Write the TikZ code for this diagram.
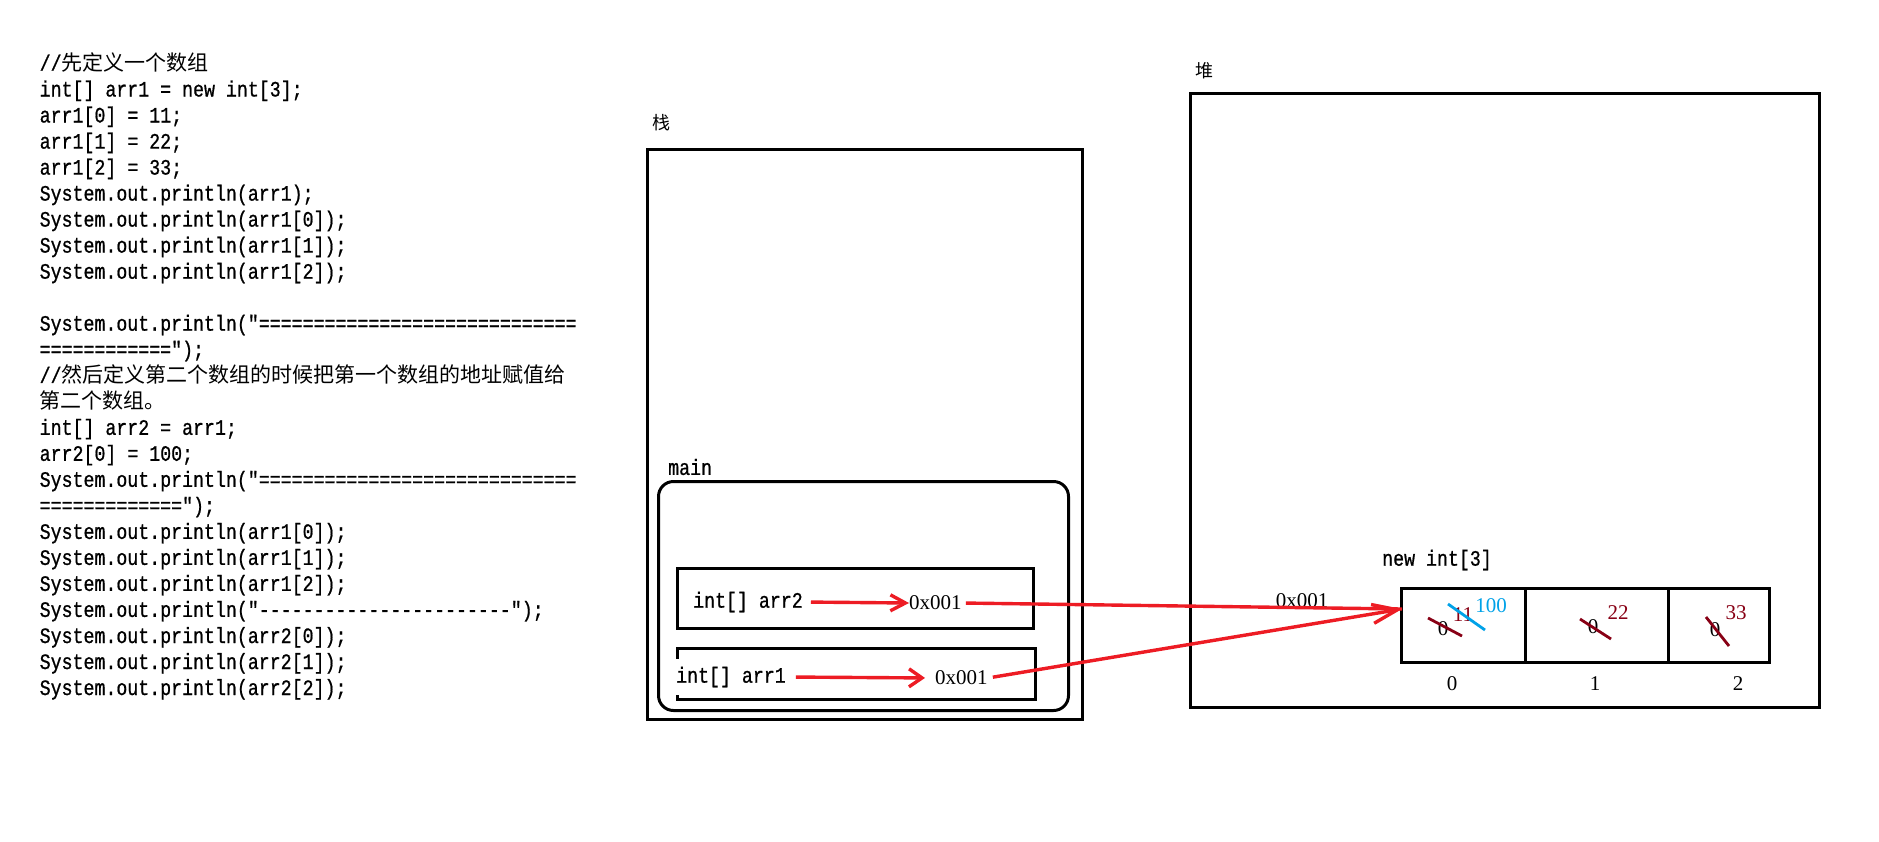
\documentclass[tikz,border=0pt]{standalone}
\usepackage{fontspec}
\setmainfont{Liberation Serif}
\setmonofont[FakeStretch=0.83,FakeBold=0.8]{Liberation Mono}
\newfontfamily\cjk{Noto Sans CJK SC}
\usetikzlibrary{arrows.meta}
\definecolor{pred}{HTML}{ED1C24}
\definecolor{pdark}{HTML}{880015}
\definecolor{pblue}{HTML}{00A2E8}
\newcommand{\zh}[1]{{\cjk\fontsize{21}{26}\selectfont #1}}
\newcommand{\zhs}[1]{{\cjk\fontsize{18}{20}\selectfont #1}}
\begin{document}
\begin{tikzpicture}[x=1pt,y=-1pt,
  code/.style={anchor=base west, inner sep=0pt, font=\ttfamily\fontsize{22}{26}\selectfont},
  mono/.style={inner sep=0pt, font=\ttfamily\fontsize{22}{26}\selectfont},
  serif/.style={inner sep=0pt, font=\fontsize{21}{25}\selectfont},
  box/.style={draw=black, line width=3pt, inner sep=0pt, anchor=north west},
  redl/.style={draw=pred, line width=3.4pt},
  strike/.style={line width=2.8pt}
]
\fill[white] (0,0) rectangle (1879,841);
\useasboundingbox (0,0) rectangle (1879,841);

% code listing
\node[code] (c0)  at (39.5, 70.5) {//\zh{先定义一个数组}};
\node[code] (c1)  at (39.5, 96.5) {int[] arr1 = new int[3];};
\node[code] (c2)  at (39.5,122.5) {arr1[0] = 11;};
\node[code] (c3)  at (39.5,148.6) {arr1[1] = 22;};
\node[code] (c4)  at (39.5,174.6) {arr1[2] = 33;};
\node[code] (c5)  at (39.5,200.6) {System.out.println(arr1);};
\node[code] (c6)  at (39.5,226.6) {System.out.println(arr1[0]);};
\node[code] (c7)  at (39.5,252.6) {System.out.println(arr1[1]);};
\node[code] (c8)  at (39.5,278.7) {System.out.println(arr1[2]);};
\node[code] (c10) at (39.5,330.7) {System.out.println("=============================};
\node[code] (c11) at (39.5,356.7) {============");};
\node[code] (c12) at (39.5,382.7) {//\zh{然后定义第二个数组的时候把第一个数组的地址赋值给}};
\node[code] (c13) at (39.5,408.8) {\zh{第二个数组。}};
\node[code] (c14) at (39.5,434.8) {int[] arr2 = arr1;};
\node[code] (c15) at (39.5,460.8) {arr2[0] = 100;};
\node[code] (c16) at (39.5,486.8) {System.out.println("=============================};
\node[code] (c17) at (39.5,512.8) {=============");};
\node[code] (c18) at (39.5,538.9) {System.out.println(arr1[0]);};
\node[code] (c19) at (39.5,564.9) {System.out.println(arr1[1]);};
\node[code] (c20) at (39.5,590.9) {System.out.println(arr1[2]);};
\node[code] (c21) at (39.5,616.9) {System.out.println("-----------------------");};
\node[code] (c22) at (39.5,643.0) {System.out.println(arr2[0]);};
\node[code] (c23) at (39.5,669.0) {System.out.println(arr2[1]);};
\node[code] (c24) at (39.5,695.0) {System.out.println(arr2[2]);};

% stack
\node[inner sep=0pt] (stacklbl) at (661,123) {\zhs{栈}};
\node[box, minimum width=435pt, minimum height=570pt] (stack) at (646,148) {};
\node[mono, anchor=west] (mainlbl) at (668,467) {main};
\node[box, rounded corners=15pt, minimum width=410pt, minimum height=229pt] (mainf) at (657,480) {};
\node[box, minimum width=356pt, minimum height=60pt] (v2) at (676,567) {};
\node[box, minimum width=358pt, minimum height=51pt] (v1) at (676,647) {};
\node[mono, anchor=west] (t2) at (693,602) {int[] arr2};
\node[serif, anchor=west] (addr2) at (909,603) {0x001};
\node[mono, anchor=west, fill=white, minimum height=36pt, inner xsep=1pt] (t1) at (675,677) {int[] arr1};
\node[serif, anchor=west] (addr1) at (935,678) {0x001};

% heap
\node[inner sep=0pt] (heaplbl) at (1204,71) {\zhs{堆}};
\node[box, minimum width=629pt, minimum height=614pt] (heap) at (1189,92) {};
\node[mono, anchor=west] (newlbl) at (1382,560) {new int[3]};
\node[box, minimum width=124pt, minimum height=74pt] (cell0) at (1400,587) {};
\node[box, minimum width=143pt, minimum height=74pt] (cell1) at (1524,587) {};
\node[box, minimum width=101pt, minimum height=74pt] (cell2) at (1667,587) {};
\node[serif] (addrh) at (1302,601) {0x001};
\node[serif] (i0) at (1452,684) {0};
\node[serif] (i1) at (1595,684) {1};
\node[serif] (i2) at (1738,684) {2};

% cell values
\node[serif] (z0) at (1443,629) {0};
\node[serif] (z1) at (1593,627) {0};
\node[serif] (z2) at (1715,630) {0};
\node[serif, text=pdark] (v11) at (1463,615) {11};
\node[serif, text=pblue] (v100) at (1491,606) {100};
\node[serif, text=pdark] (v22) at (1618,613) {22};
\node[serif, text=pdark] (v33) at (1736,613) {33};
\draw[strike, pdark] (1428,618) -- (1462,636);
\draw[strike, pblue] (1448,604) -- (1485,630);
\draw[strike, pdark] (1580,619) -- (1611,639);
\draw[strike, pdark] (1706,617) -- (1729,646);

% connectors
\coordinate (tip) at (1402,609);
\draw[redl, -{Straight Barb[length=15pt,width=16pt]}, shorten <=8pt] (t2.east) -- (addr2.west);
\draw[redl, -{Straight Barb[length=13pt,width=18pt]}, shorten <=9pt, shorten >=10pt] (t1.east) -- (addr1.west);
\draw[redl, shorten <=4pt] (addr2.east) -- (tip);
\draw[redl, -{Straight Barb[length=25pt,width=19pt]}, shorten <=5pt] (addr1.east) -- (tip);
\end{tikzpicture}
\end{document}
